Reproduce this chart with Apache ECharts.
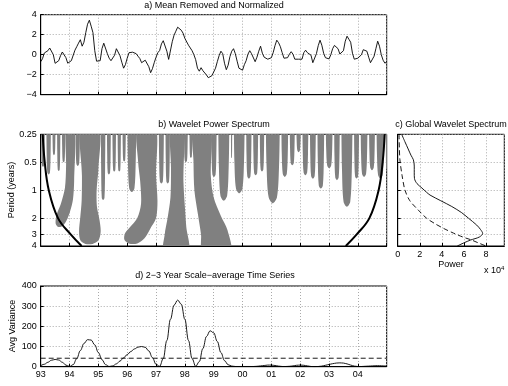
<!DOCTYPE html>
<html>
<head>
<meta charset="utf-8">
<title>Wavelet analysis</title>
<script src="https://cdn.jsdelivr.net/npm/echarts@6/dist/echarts.min.js"></script>
<style>
  html, body { margin: 0; padding: 0; background: #fff; }
  #main { width: 508px; height: 386px; }
</style>
</head>
<body>
<div id="main"></div>
<script>
// a) normalized series, one value every 1/16 year from 1993
const aStart = 1993, aStep = 1 / 16;
const aValue = [
  -0.7,-0.4,0.17,0.15,0.4,0.67,0.5,0.0,-0.86,-0.78,-0.6,-0.1,0.27,0.2,-0.3,-0.85,
  -1.0,-0.6,-0.5,0.45,0.8,1.16,1.5,0.85,1.25,2.2,3.05,3.45,2.85,2.2,0.4,-0.65,
  -0.55,-0.6,0.6,1.15,1.0,0.1,-0.35,-0.6,-0.6,-0.05,0.6,0.55,-0.1,-0.75,-1.35,-1.0,
  -0.35,0.2,0.36,0.25,0.17,0.1,-0.15,-0.38,-0.8,-0.95,-0.55,-0.4,-1.2,-1.8,-1.4,-0.8,
  -0.25,0.2,0.42,1.08,1.4,1.25,0.35,-0.47,-0.47,1.3,1.95,2.35,2.75,2.7,2.45,2.15,
  1.63,1.43,0.95,0.75,0.4,0.0,-0.5,-1.35,-1.65,-1.3,-1.6,-1.5,-2.03,-2.3,-2.5,-2.1,
  -2.2,-1.35,-0.7,-0.1,0.35,0.1,-0.85,-1.5,-1.05,-0.2,0.35,0.6,0.1,-0.65,-1.35,-1.3,
  -1.55,-1.0,-0.6,0.05,0.4,0.1,-0.1,-0.7,-0.25,0.35,0.85,0.15,-0.25,-0.25,-0.45,-0.53,
  -0.3,0.2,0.9,1.45,1.2,0.8,0.2,-0.35,-0.55,-0.3,0.05,0.3,0.05,-0.45,-0.65,-0.45,
  -0.35,-0.45,0.2,0.45,0.2,0.4,-0.05,-0.8,-0.75,0.1,0.9,1.45,0.95,0.15,-0.3,-0.48,
  -0.42,0.0,0.6,0.93,0.9,0.6,0.07,0.0,0.4,1.35,1.85,1.55,1.25,0.15,-0.45,-0.25,
  -0.35,-0.37,0.0,0.5,0.6,0.35,-0.25,-0.8,-0.7,-0.15,0.6,1.35,0.85,0.0,-0.55,-0.85,
  -0.7
];

// b) significant wavelet power: fingers hanging from the top [from year, to year, deepest period]
const fingers = [
  [1993.00,1993.16,0.56],[1993.18,1993.37,0.68],[1993.39,1993.53,0.42],[1993.55,1993.70,0.62],
  [1993.72,1993.87,0.50],[1994.19,1994.38,0.55],[1995.07,1995.26,1.28],[1995.28,1995.45,0.68],
  [1995.47,1995.63,0.63],[1995.65,1995.80,0.63],[1995.82,1995.97,0.49],[1995.99,1996.33,1.05],
  [1997.08,1997.29,0.85],[1997.31,1997.50,0.85],[1997.95,1998.12,0.50],[1998.14,1998.28,0.45],
  [1998.90,1999.12,0.72],[1999.14,1999.56,1.30],
  [1999.58,1999.66,0.45],[1999.68,2000.09,1.08],[2000.11,2000.33,0.75],[2000.35,2000.56,0.69],
  [2000.58,2000.77,0.63],[2000.79,2001.31,1.39],[2001.33,2001.60,0.72],[2001.62,2001.83,0.54],
  [2001.85,2002.04,0.39],[2002.06,2002.30,0.69],[2002.32,2002.56,0.75],[2002.58,2002.85,0.96],
  [2002.87,2003.14,0.58],[2003.16,2003.39,0.78],[2003.41,2003.83,1.51],[2003.85,2004.06,0.75],
  [2004.08,2004.35,0.72],[2004.37,2004.61,0.61],[2004.63,2004.93,0.75],[2004.95,2005.05,0.60]
];
// b) larger significant regions, outlines as [year, period]
const blobs = [
  [[1993.89,0.2],[1994.17,0.2],[1994.16,0.8],[1994.12,1.25],[1994.03,1.65],[1993.92,2.05],[1993.78,2.4],
   [1993.62,2.5],[1993.52,2.3],[1993.55,1.85],[1993.70,1.4],[1993.84,0.95],[1993.88,0.55]],
  [[1994.40,0.2],[1995.02,0.2],[1995.0,0.6],[1994.94,1.0],[1994.95,1.5],[1995.04,2.1],[1995.08,2.8],
   [1995.0,3.5],[1994.8,3.8],[1994.55,3.8],[1994.38,3.5],[1994.33,2.8],[1994.37,2.0],[1994.42,1.3],[1994.43,0.7]],
  [[1996.36,0.2],[1996.98,0.2],[1997.0,0.7],[1997.05,1.3],[1997.0,2.0],[1996.8,2.6],[1996.6,3.3],
   [1996.35,3.75],[1996.05,3.75],[1995.9,3.4],[1995.93,2.9],[1996.1,2.5],[1996.35,2.0],[1996.48,1.4],
   [1996.45,0.8],[1996.38,0.5]],
  [[1997.52,0.2],[1997.93,0.2],[1997.95,0.8],[1998.0,1.5],[1998.05,2.5],[1998.12,4.6],[1997.28,4.6],
   [1997.3,3.0],[1997.4,2.0],[1997.5,1.2],[1997.52,0.6]],
  [[1998.30,0.2],[1998.88,0.2],[1998.9,0.7],[1999.0,1.2],[1999.25,1.9],[1999.48,2.7],[1999.58,4.6],
   [1998.62,4.6],[1998.56,3.0],[1998.45,1.8],[1998.33,1.0],[1998.30,0.5]]
];
// b) cone of influence
const coiLeft = [[1993.07,0.25],[1993.14,0.5],[1993.28,1],[1993.6,2],[1994.04,3],[1994.42,4]];
const coiRight = [[2003.58,4],[2003.96,3],[2004.4,2],[2004.72,1],[2004.86,0.5],[2004.93,0.25]];
const periodTicks = [0.25, 0.5, 1, 2, 3, 4];

// c) global wavelet spectrum (power in units of 1e4)
const gwsPeriod = [0.25,0.3,0.36,0.42,0.47,0.55,0.65,0.75,0.85,0.95,1.05,1.13,1.3,1.5,1.75,2.0,2.38,2.65,2.93,3.2,3.45,3.7,4.0];
const gwsPower  = [0.36,0.65,0.95,1.2,1.42,1.5,1.5,1.52,1.75,2.2,2.6,2.93,3.9,4.9,5.8,6.4,7.16,7.5,7.7,7.4,6.6,6.0,5.4];
const sigPeriod = [0.25,0.35,0.47,0.7,1.0,1.3,1.64,2.0,2.3,2.6,2.9,3.2,3.45,3.7,4.0];
const sigPower  = [0.12,0.15,0.2,0.4,0.66,1.1,1.87,2.6,3.38,4.2,5.04,5.9,6.7,7.3,8.0];

// d) 2-3 year scale-averaged variance, one value every 1/8 year from 1993
const dStart = 1993, dStep = 1 / 8;
const dValue = [
  5,12,22,32,36,33,22,8,1,10,40,80,115,134,132,108,
  70,35,10,1,4,14,28,44,60,75,88,97,100,96,78,45,
  12,2,40,130,235,305,330,310,235,130,40,2,25,90,150,178,
  168,125,70,30,10,3,1,1,1,1,1,1,2,4,6,8,
  8,6,3,1,1,2,4,7,8,7,4,1,0,1,3,7,
  11,15,18,19,18,14,8,3,1,1,2,3,4,5,5,4,
  4
];
const dSignif = 42;

const gray = '#808080';
const font = 'Liberation Sans, Arial, sans-serif';
const dotted = { show: true, lineStyle: { color: '#aaaaaa', type: [1, 2], width: 1 } };
const axisLine = { show: true, onZero: false, lineStyle: { color: '#000', width: 1 } };
const tick = { show: true, inside: true, length: 3, lineStyle: { color: '#000' } };
const label = { color: '#000', fontSize: 9, fontFamily: font };

function yearAxis(g, showLabel) {
  return {
    type: 'value', gridIndex: g, min: 1993, max: 2005, interval: 1,
    axisLine: axisLine, axisTick: tick, splitLine: dotted,
    axisLabel: Object.assign({}, label, {
      show: showLabel, margin: 3, showMaxLabel: false,
      formatter: v => String(v % 100).padStart(2, '0')
    })
  };
}
function periodAxis(g, showLabel) {
  return {
    type: 'log', logBase: 2, gridIndex: g, min: 0.25, max: 4, inverse: true,
    axisLine: axisLine, axisTick: Object.assign({}, tick, { customValues: periodTicks }),
    splitLine: dotted,
    axisLabel: Object.assign({}, label, {
      show: showLabel, margin: 4, customValues: periodTicks,
      formatter: v => String(Math.round(v * 100) / 100)
    })
  };
}

// stalactite shaped finger, tapering to a round tip; a thin white slit is kept between neighbours
function renderFinger(params, api) {
  const a = api.coord([api.value(0), 0.2]);
  const b = api.coord([api.value(1), api.value(2)]);
  const x0 = a[0] + 0.5, x1 = b[0] - 0.5;
  const w = x1 - x0, top = a[1], bot = b[1];
  const xc = (x0 + x1) / 2;
  const tip = bot - Math.min(0.45 * w, 0.5 * (bot - top));
  const mid = top + (tip - top) * 0.6;
  return {
    type: 'polygon',
    shape: {
      points: [[x0, top - 10], [x0, top + 2], [x0 + 0.06 * w, mid], [x0 + 0.2 * w, tip], [xc, bot],
               [x1 - 0.2 * w, tip], [x1 - 0.06 * w, mid], [x1, top + 2], [x1, top - 10]],
      smooth: 0.3
    },
    style: { fill: gray }
  };
}

const chart = echarts.init(document.getElementById('main'));
chart.setOption({
  animation: false,
  textStyle: { fontFamily: font },
  grid: [
    { left: 40.7, top: 14.7, width: 346, height: 80 },
    { left: 40.7, top: 134.3, width: 346, height: 111.7 },
    { left: 397.7, top: 134.3, width: 106.6, height: 111.7 },
    { left: 40.7, top: 286, width: 346, height: 80.7 }
  ].map(g => Object.assign(g, { show: true, borderColor: '#000', borderWidth: 1, containLabel: false })),
  xAxis: [
    yearAxis(0, false),
    yearAxis(1, false),
    {
      type: 'value', gridIndex: 2, min: 0, max: 9.66, interval: 2,
      axisLine: axisLine, axisTick: tick, splitLine: dotted,
      axisLabel: Object.assign({}, label, { margin: 4, showMaxLabel: false })
    },
    yearAxis(3, true)
  ],
  yAxis: [
    {
      type: 'value', gridIndex: 0, min: -4, max: 4, interval: 2,
      axisLine: axisLine, axisTick: tick, splitLine: dotted,
      axisLabel: Object.assign({}, label, { margin: 4, formatter: v => String(v).replace('-', '\u2212') })
    },
    periodAxis(1, true),
    periodAxis(2, false),
    {
      type: 'value', gridIndex: 3, min: 0, max: 400, interval: 100,
      axisLine: axisLine, axisTick: tick, splitLine: dotted,
      axisLabel: Object.assign({}, label, { margin: 4 })
    }
  ],
  series: [
    {
      type: 'line', xAxisIndex: 0, yAxisIndex: 0, showSymbol: false, silent: true,
      lineStyle: { color: '#000', width: 0.9 },
      data: aValue.map((v, i) => [aStart + i * aStep, v])
    },
    {
      type: 'custom', xAxisIndex: 1, yAxisIndex: 1, clip: true, silent: true,
      data: blobs.map(b => b[0]),
      renderItem: (params, api) => ({
        type: 'polygon',
        shape: { points: blobs[params.dataIndex].map(p => api.coord(p)), smooth: 0.3 },
        style: { fill: gray }
      })
    },
    {
      type: 'custom', xAxisIndex: 1, yAxisIndex: 1, clip: true, silent: true,
      encode: { x: [0, 1], y: 2 },
      data: fingers,
      renderItem: renderFinger
    },
    {
      type: 'line', xAxisIndex: 1, yAxisIndex: 1, showSymbol: false, silent: true, smooth: 0.4,
      lineStyle: { color: '#000', width: 2 }, data: coiLeft
    },
    {
      type: 'line', xAxisIndex: 1, yAxisIndex: 1, showSymbol: false, silent: true, smooth: 0.4,
      lineStyle: { color: '#000', width: 2 }, data: coiRight
    },
    {
      type: 'line', xAxisIndex: 2, yAxisIndex: 2, showSymbol: false, silent: true, smooth: 0.3,
      lineStyle: { color: '#000', width: 0.9 },
      data: gwsPower.map((v, i) => [v, gwsPeriod[i]])
    },
    {
      type: 'line', xAxisIndex: 2, yAxisIndex: 2, showSymbol: false, silent: true, smooth: 0.3,
      lineStyle: { color: '#000', width: 0.9, type: [5, 3] },
      data: sigPower.map((v, i) => [v, sigPeriod[i]])
    },
    {
      type: 'line', xAxisIndex: 3, yAxisIndex: 3, showSymbol: false, silent: true,
      smooth: 0.4, smoothMonotone: 'x',
      lineStyle: { color: '#000', width: 0.9 },
      data: dValue.map((v, i) => [dStart + i * dStep, v])
    },
    {
      type: 'line', xAxisIndex: 3, yAxisIndex: 3, showSymbol: false, silent: true,
      lineStyle: { color: '#000', width: 0.9, type: [5, 3] },
      data: [[1993, dSignif], [2005, dSignif]]
    }
  ],
  graphic: [
    { type: 'text', x: 214, y: 5.5, style: { text: 'a) Mean Removed and Normalized', font: '9px ' + font, fill: '#000', align: 'center', verticalAlign: 'middle' } },
    { type: 'text', x: 214, y: 124.5, style: { text: 'b) Wavelet Power Spectrum', font: '9px ' + font, fill: '#000', align: 'center', verticalAlign: 'middle' } },
    { type: 'text', x: 451, y: 124.5, style: { text: 'c) Global Wavelet Spectrum', font: '9px ' + font, fill: '#000', align: 'center', verticalAlign: 'middle' } },
    { type: 'text', x: 215, y: 276, style: { text: 'd) 2\u22123 Year Scale\u2212average Time Series', font: '9px ' + font, fill: '#000', align: 'center', verticalAlign: 'middle' } },
    { type: 'text', x: 12, y: 190, rotation: Math.PI / 2, style: { text: 'Period (years)', font: '9px ' + font, fill: '#000', align: 'center', verticalAlign: 'middle' } },
    { type: 'text', x: 13, y: 326, rotation: Math.PI / 2, style: { text: 'Avg Variance', font: '9px ' + font, fill: '#000', align: 'center', verticalAlign: 'middle' } },
    { type: 'text', x: 451, y: 265, style: { text: 'Power', font: '9px ' + font, fill: '#000', align: 'center', verticalAlign: 'middle' } },
    { type: 'text', x: 484, y: 271, style: { text: 'x 10{s|4}', font: '9px ' + font, fill: '#000', align: 'left', verticalAlign: 'middle', rich: { s: { fontSize: 6, verticalAlign: 'top', padding: [0, 0, 6, 0] } } } }
  ]
});
</script>
</body>
</html>
